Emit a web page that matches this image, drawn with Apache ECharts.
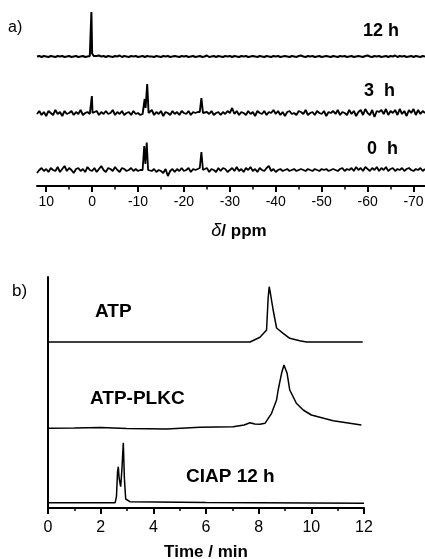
<!DOCTYPE html>
<html><head><meta charset="utf-8">
<script src="https://cdn.jsdelivr.net/npm/echarts@6/dist/echarts.min.js"></script>
<style>html,body{margin:0;padding:0;background:#fff}#c{width:425px;height:559px}</style>
</head><body><div id="c"></div>
<script>
// ---------- Panel a: 31P NMR ----------
const ppmStart = 12, ppmStep = 0.5;
const ppmTicks = [10, 0, -10, -20, -30, -40, -50, -60, -70];
const ppmMinorTicks = [5, -5, -15, -25, -35, -45, -55, -65];
const nmrLabels = ['12 h', '3 h', '0 h'];
const base12h = 129.5, base3h = 73, base0h = 16;

const noise12h = [
 0,0.5,-0.5,0.5,0,-0.5,0.5,0,-0.5,0.5,
 0,0.5,-0.5,0,0.5,-0.5,0,0.5,-0.5,0,
 0.5,-0.5,0,0.5,0,1,0.5,1,0,0.5,
 -0.5,0.5,0,-0.5,0.5,0,1,-0.5,0.5,0,
 -0.5,0.5,0,0.5,-0.5,0,0.5,-0.5,0.5,0,
 0,-0.5,0.5,0,-0.5,0.5,0,0.5,-0.5,0,
 0.5,0,-0.5,0.5,0,0.5,-0.5,0,0.5,-0.5,
 0,0.5,-0.5,0,1,-0.5,0,0.5,-0.5,0.5,
 0,-0.5,0.5,0,0.5,-0.5,0.5,0,-0.5,0.5,
 0,0.5,-0.5,0,0.5,0,-0.5,0.5,0,-0.5,
 0.5,0,-0.5,0.5,0,0.5,-0.5,0,0.5,0,
 -0.5,0.5,0,-0.5,0.5,1,0,-0.5,0.5,0,
 0.5,-0.5,0,0.5,-0.5,0,0.5,0,-0.5,0.5,
 0,-0.5,0.5,0,0.5,-0.5,0,0.5,-0.5,0,
 0.5,0,-0.5,0.5,1,0,-0.5,0.5,0,0.5,
 -0.5,0,0.5,-0.5,0.5,0,1,-0.5,0.5,0,
 0.5,-0.5,0,0.5,-0.5,0.5,0,-0.5,0.5,0
];
const noise3h = [
 -1,2,-2,1,-3,2,0,-2,3,-1,
 1,-3,2,-1,0,2,-2,1,-1,3,
 -2,0,1,-1,1,-1,2,-2,1,-1,
 2,-1,0,3,-2,1,-1,2,-2,0,
 1,-2,2,-1,0,-2,-1,1,2,0,
 3,-2,1,-1,2,-3,1,0,-2,2,
 -1,1,-2,2,0,-1,2,-2,1,0,
 1,2,0,-2,1,-1,2,-2,0,1,
 -2,1,-1,2,0,5,-1,2,-2,1,
 0,-2,2,-1,1,-3,2,0,-1,2,
 -2,1,0,3,-1,2,-2,1,-3,1,
 2,-1,0,-2,2,1,-1,3,-2,0,
 1,-2,2,0,-1,2,-3,1,0,2,
 -1,3,-2,1,0,-2,3,-1,2,-3,
 1,3,-2,4,0,-2,3,-4,2,1,
 3,-1,4,-2,2,0,3,-2,4,-1,
 2,-3,3,0,4,-2,3,-1,2,0
];
const noise0h = [
 -3,0,2,-1,1,-2,2,0,-1,3,
 -2,1,4,-1,2,0,-3,1,2,-1,
 1,-2,3,0,-1,2,-2,1,4,0,
 -2,2,1,-1,3,0,-2,2,1,-1,
 0,2,-1,1,-1,0,0,0,0,0,
 -1,1,-2,0,-1,-3,1,-6,-1,1,
 -2,1,-1,2,-1,0,2,-2,1,0,
 1,2,0,-1,2,-2,1,0,-2,2,
 -1,2,1,-2,0,2,-1,3,-1,1,
 -2,2,0,3,-1,1,-2,2,0,-1,
 2,4,-1,1,-2,0,1,-1,0,1,
 -1,0,1,-1,0,1,0,-1,1,0,
 -1,1,0,-1,1,0,1,-1,0,1,
 0,-1,1,2,-1,1,0,2,-1,3,
 0,2,-1,3,1,-1,2,0,3,-1,
 2,0,3,-1,1,2,-1,1,0,2,
 -1,1,2,0,-1,1,0,2,-1,1
];
// peak groups: ppm positions and heights above baseline
const peaks12hPpm = [[0.35, 0.15, 0.0, -0.35]];
const peaks12hVal = [[0, 44.5, 3, 0.5]];
const peaks3hPpm = [[0.2, 0.05, -0.1], [-11.1, -11.45, -11.65, -12.0, -12.3], [-23.45, -23.8, -24.15]];
const peaks3hVal = [[0, 17, 0], [0, 14, 5, 29, 0], [1, 15, 0]];
const peaks0hPpm = [[-11.05, -11.35, -11.6, -11.9, -12.2], [-23.45, -23.8, -24.15]];
const peaks0hVal = [[0, 24, 6, 27.5, 0], [2, 18, 0]];

// ---------- Panel b: HPLC ----------
const hplcLabels = ['ATP', 'ATP-PLKC', 'CIAP 12 h'];
const atpTime = [0, 3.2, 3.25, 3.3, 7.67, 8.05, 8.3, 8.36, 8.40, 8.45, 8.55, 8.68, 8.93, 9.18, 9.56, 9.82, 11.95];
const atpSig  = [166, 166, 166.8, 166, 166, 170.7, 178, 210, 221.3, 214, 198, 180, 174.7, 169.7, 167.3, 166, 166];
const plkcTime = [0, 1, 2, 3, 4.5, 5.77, 7.03, 7.45, 7.67, 7.85, 8.05, 8.24, 8.49, 8.68, 8.74, 8.87, 8.96, 9.08, 9.18, 9.37, 9.43, 9.69, 10.0, 10.83, 11.9];
const plkcSig  = [79.7, 80, 80.5, 79.5, 79, 80.7, 81.3, 83, 85.3, 84, 83.7, 84.7, 94.7, 108, 118, 134.7, 143, 134.7, 118, 108, 104.7, 98, 93, 87.3, 83];
const ciapTime = [0, 2.55, 2.6, 2.64, 2.67, 2.7, 2.76, 2.81, 2.86, 2.9, 2.95, 3.11, 6, 12];
const ciapSig  = [5.3, 5.3, 11.3, 36, 41.3, 30, 21.3, 40, 65.3, 30, 9, 6.3, 5.5, 4.7];
const timeTicksInterval = 2;

function buildSpectrum(base, noise, peakPpm, peakVal) {
  let pts = noise.map((v, i) => [ppmStart - i * ppmStep, base + v]);
  peakPpm.forEach((grp, g) => {
    const hi = Math.max(...grp), lo = Math.min(...grp);
    pts = pts.filter(p => p[0] > hi || p[0] < lo);
    grp.forEach((x, k) => pts.push([x, base + peakVal[g][k]]));
  });
  pts.sort((a, b) => b[0] - a[0]);
  return pts;
}
const zip = (xs, ys) => xs.map((x, i) => [x, ys[i]]);

const FONT = 'Liberation Sans, Arial, sans-serif';
const chart = echarts.init(document.getElementById('c'), null, {renderer: 'canvas'});
const black = '#000';
const lineS = (w) => ({color: black, width: w});

chart.setOption({
  animation: false,
  backgroundColor: '#fff',
  textStyle: {fontFamily: FONT, color: black},
  grid: [
    {left: 37, width: 388, top: 10, height: 176, outerBoundsMode: 'none', containLabel: false},
    {left: 48, width: 316, top: 277, height: 231, outerBoundsMode: 'none', containLabel: false}
  ],
  xAxis: [
    {type: 'value', gridIndex: 0, min: -72.5, max: 12, inverse: true, position: 'bottom',
     axisLine: {show: true, onZero: false, lineStyle: lineS(2)},
     axisTick: {show: true, customValues: ppmTicks, length: 6, lineStyle: lineS(2)},
     axisLabel: {show: true, customValues: ppmTicks, fontSize: 14, margin: 9, color: black, fontFamily: FONT,
                 formatter: v => String(v)},
     splitLine: {show: false},
     name: '{i|δ}{n|/ ppm}', nameLocation: 'middle', nameGap: 36,
     nameTextStyle: {padding: [0, 0, 0, 16], rich: {
       i: {fontStyle: 'italic', fontSize: 18, fontFamily: FONT, color: black},
       n: {fontSize: 17, fontWeight: 'bold', fontFamily: FONT, color: black}}}},
    {type: 'value', gridIndex: 0, min: -72.5, max: 12, inverse: true, position: 'bottom', offset: 0,
     axisLine: {show: false, onZero: false},
     axisTick: {show: true, customValues: ppmMinorTicks, length: 3.5, lineStyle: lineS(1.5)},
     axisLabel: {show: false}, splitLine: {show: false}},
    {type: 'value', gridIndex: 1, min: 0, max: 12, interval: timeTicksInterval, position: 'bottom',
     axisLine: {show: true, onZero: false, lineStyle: lineS(2)},
     axisTick: {show: true, length: 6, lineStyle: lineS(2)},
     minorTick: {show: true, splitNumber: 2, length: 3, lineStyle: lineS(1.5)},
     axisLabel: {fontSize: 16, margin: 12, color: black, fontFamily: FONT},
     splitLine: {show: false}, minorSplitLine: {show: false},
     name: 'Time / min', nameLocation: 'middle', nameGap: 36,
     nameTextStyle: {fontSize: 17, fontWeight: 'bold', fontFamily: FONT, color: black}}
  ],
  yAxis: [
    {type: 'value', gridIndex: 0, min: 0, max: 176, show: false},
    {type: 'value', gridIndex: 1, min: 0, max: 231,
     axisLine: {show: true, onZero: false, lineStyle: lineS(2)},
     axisTick: {show: false}, axisLabel: {show: false}, splitLine: {show: false}}
  ],
  series: [
    {type: 'line', xAxisIndex: 0, yAxisIndex: 0, symbol: 'none', lineStyle: lineS(2),
     data: buildSpectrum(base12h, noise12h, peaks12hPpm, peaks12hVal)},
    {type: 'line', xAxisIndex: 0, yAxisIndex: 0, symbol: 'none', lineStyle: lineS(1.9),
     data: buildSpectrum(base3h, noise3h, peaks3hPpm, peaks3hVal)},
    {type: 'line', xAxisIndex: 0, yAxisIndex: 0, symbol: 'none', lineStyle: lineS(1.8),
     data: buildSpectrum(base0h, noise0h, peaks0hPpm, peaks0hVal)},
    {type: 'line', xAxisIndex: 2, yAxisIndex: 1, symbol: 'none', lineStyle: lineS(1.5), data: zip(atpTime, atpSig)},
    {type: 'line', xAxisIndex: 2, yAxisIndex: 1, symbol: 'none', lineStyle: lineS(1.5), data: zip(plkcTime, plkcSig)},
    {type: 'line', xAxisIndex: 2, yAxisIndex: 1, symbol: 'none', lineStyle: lineS(1.5), data: zip(ciapTime, ciapSig)}
  ],
  graphic: [
    {type: 'text', left: 8, top: 20, style: {text: 'a)', font: '16px ' + FONT, fill: black}},
    {type: 'text', left: 12, top: 283, style: {text: 'b)', font: '17px ' + FONT, fill: black}},
    {type: 'text', x: 363, y: 31, style: {text: nmrLabels[0], font: 'bold 18px ' + FONT, fill: black, verticalAlign: 'middle'}},
    {type: 'text', x: 364, y: 91, style: {text: nmrLabels[1].replace(' ', '  '), font: 'bold 18px ' + FONT, fill: black, verticalAlign: 'middle'}},
    {type: 'text', x: 367, y: 149, style: {text: nmrLabels[2].replace(' ', '  '), font: 'bold 18px ' + FONT, fill: black, verticalAlign: 'middle'}},
    {type: 'text', x: 95, y: 312, style: {text: hplcLabels[0], font: 'bold 19px ' + FONT, fill: black, verticalAlign: 'middle'}},
    {type: 'text', x: 90, y: 399, style: {text: hplcLabels[1], font: 'bold 19px ' + FONT, fill: black, verticalAlign: 'middle'}},
    {type: 'text', x: 186, y: 477, style: {text: hplcLabels[2], font: 'bold 19px ' + FONT, fill: black, verticalAlign: 'middle'}}
  ]
});
</script>
</body></html>
